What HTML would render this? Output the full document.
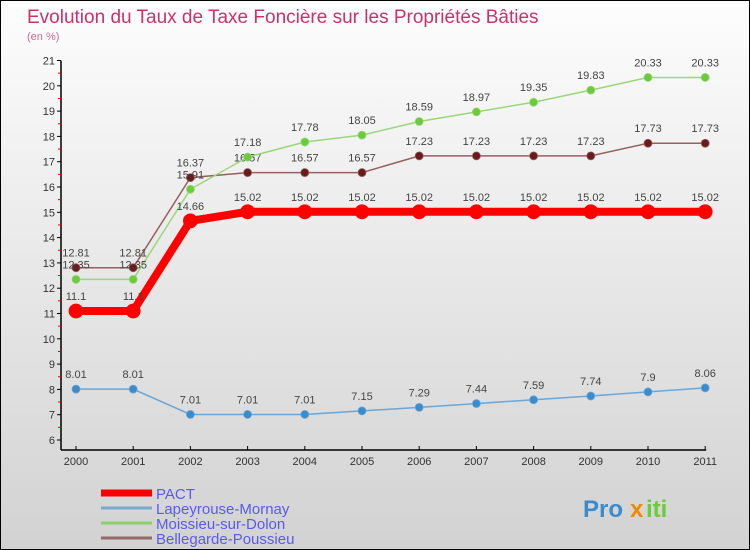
<!DOCTYPE html>
<html><head><meta charset="utf-8"><style>
body{margin:0}
#c{width:748px;height:548px;border:1px solid #000;background:linear-gradient(#fdfdfd,#d2d2d2);position:relative;font-family:"Liberation Sans",sans-serif;overflow:hidden}
</style></head><body>
<div id="c">
<svg id="s" width="748" height="548" style="position:absolute;left:0;top:0"></svg>
</div>
<script>
const years=["2000","2001","2002","2003","2004","2005","2006","2007","2008","2009","2010","2011"];
const pact=[11.1,11.1,14.66,15.02,15.02,15.02,15.02,15.02,15.02,15.02,15.02,15.02];
const lapeyrouse=[8.01,8.01,7.01,7.01,7.01,7.15,7.29,7.44,7.59,7.74,7.9,8.06];
const moissieu=[12.35,12.35,15.91,17.18,17.78,18.05,18.59,18.97,19.35,19.83,20.33,20.33];
const bellegarde=[12.81,12.81,16.37,16.57,16.57,16.57,17.23,17.23,17.23,17.23,17.73,17.73];
const yTicks=[6,7,8,9,10,11,12,13,14,15,16,17,18,19,20,21];
const seriesNames=["PACT","Lapeyrouse-Mornay","Moissieu-sur-Dolon","Bellegarde-Poussieu"];
const NS="http://www.w3.org/2000/svg",s=document.getElementById('s');
const X=i=>75+i*57.2, Y=v=>439-(v-6)*25.3;
function el(t,a,txt){const e=document.createElementNS(NS,t);for(const k in a)e.setAttribute(k,a[k]);if(txt!==undefined)e.textContent=txt;s.appendChild(e);return e;}
let e;
e=el('text',{x:26,y:22,fill:'#c8336a','font-size':19},"Evolution du Taux de Taxe Foncière sur les Propriétés Bâties");


e=el('text',{x:26,y:39,fill:'#d06a90','font-size':11},"(en %)");


e=el('line',{x1:60,y1:Y(21),x2:60,y2:449,stroke:'#000','stroke-width':1.5});


e=el('line',{x1:60,y1:449,x2:X(11)+1,y2:449,stroke:'#000','stroke-width':1.5});


yTicks.forEach((v,i)=>{
  e=el('line',{x1:56,y1:Y(v),x2:60,y2:Y(v),stroke:'#000'});
  
  
  if(i<yTicks.length-1){e=el('line',{x1:57,y1:Y(v+0.5),x2:60,y2:Y(v+0.5),stroke:'#e00'});
  
  }
  e=el('text',{x:54,y:Y(v)+4,'text-anchor':'end','font-size':11,fill:'#333'},String(v));
  
  
});
years.forEach((yr,i)=>{
  e=el('line',{x1:X(i),y1:445,x2:X(i),y2:449,stroke:'#000'});
  
  
  e=el('text',{x:X(i),y:464,'text-anchor':'middle','font-size':11,fill:'#333'},yr);
  
  
});
function series(d,color,dot,w,r,name){
  e=el('polyline',{points:d.map((v,i)=>X(i)+','+Y(v)).join(' '),fill:'none',stroke:color,'stroke-width':w});
  
  
  d.forEach((v,i)=>{
    e=el('circle',{cx:X(i),cy:Y(v),r:r,fill:dot,stroke:color,'stroke-width':0.8});
    
    
    e=el('text',{x:X(i),y:Y(v)-11,'text-anchor':'middle','font-size':11,fill:'#444'},String(v));
    
    
  });
}
series(lapeyrouse,'#6aa6d6','#3a8ccc',1.5,4,'lapeyrouse');
series(bellegarde,'#946060','#6a1a1a',1.5,4,'bellegarde');
series(moissieu,'#9ad67a','#6acc3a',1.5,4,'moissieu');
series(pact,'#f00','#f00',8,7,'pact');
const lc=['#f00','#7aaad0','#8ed06a','#946a6a'],lw=[7,3,3,3];
seriesNames.forEach((n,i)=>{
  const y=492+i*15;
  e=el('line',{x1:100,y1:y,x2:151,y2:y,stroke:lc[i],'stroke-width':lw[i]});
  
  
  e=el('text',{x:155,y:y+6,'font-size':15,fill:'#5a5aee'},n);
  
  
});
e=el('text',{x:582,y:516,'font-size':24,'font-weight':'bold',fill:'#3a8ccc'},"Pro");


e=el('text',{x:629,y:516,'font-size':24,'font-weight':'bold',fill:'#f08a00'},"x");


e=el('text',{x:645,y:516,'font-size':24,'font-weight':'bold',fill:'#6acc3a'},"iti");


</script>
</body></html>
